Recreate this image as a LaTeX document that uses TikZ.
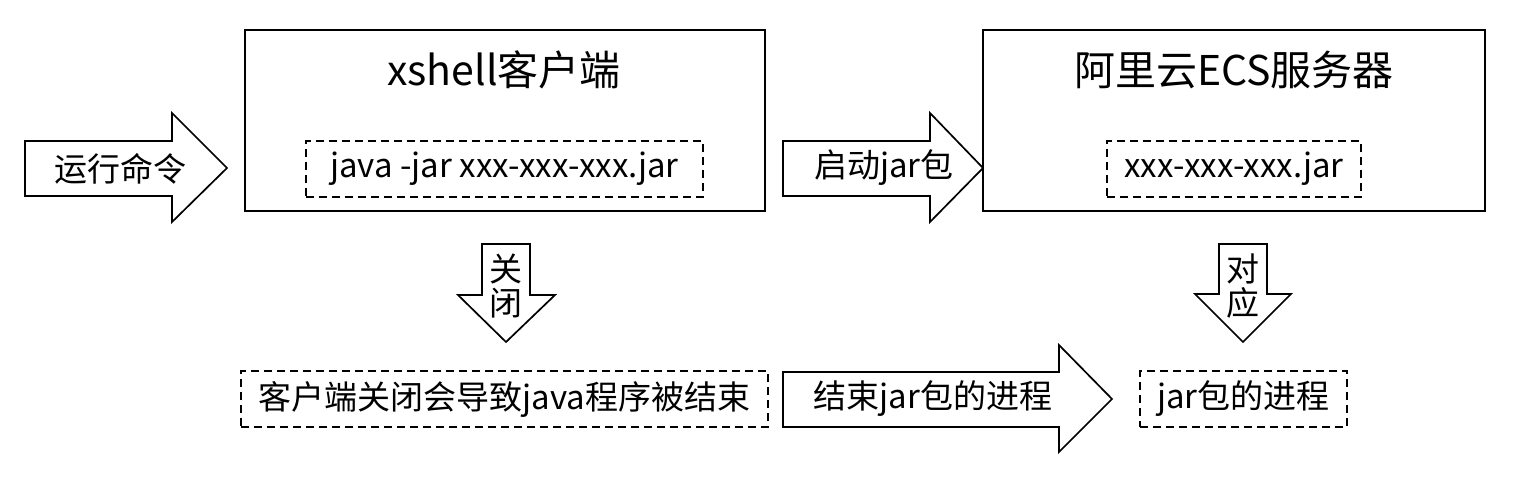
\documentclass[tikz,border=0pt]{standalone}
\usepackage{fontspec}
\setmainfont{Noto Sans CJK SC}
\tikzset{
  bigbox/.style={draw,line width=1.7pt,minimum height=181pt,inner sep=0pt},
  dashbox/.style={draw,line width=1.5pt,dash pattern=on 8pt off 5pt,minimum height=56pt,inner sep=0pt},
  blockarrow/.style={draw,line width=1.7pt,fill=white,line join=miter},
  title/.style={font=\fontsize{41}{45}\selectfont},
  lbl/.style={font=\fontsize{33}{35}\selectfont},
  vlbl/.style={font=\fontsize{33}{34}\selectfont,align=center}
}
\begin{document}
\begin{tikzpicture}[x=1pt,y=-1pt]
\useasboundingbox (0,0) rectangle (1528,480);
% the two machines
\node[bigbox,minimum width=520pt] (client) at (505,120.5) {};
\node[title] (clienttitle) at (504,70) {xshell客户端};
\node[dashbox,minimum width=397pt,lbl] (cmd) at (504.5,169) {java -jar xxx-xxx-xxx.jar};
\node[bigbox,minimum width=502pt] (server) at (1234,120.5) {};
\node[title] (servertitle) at (1234,70) {阿里云ECS服务器};
\node[dashbox,minimum width=254pt,lbl] (jarfile) at (1234,169) {xxx-xxx-xxx.jar};
% big arrows
\draw[blockarrow] (25,141) -- (172,141) -- (172,113) -- (227,168)
  -- (172,222) -- (172,196) -- (25,196) -- cycle;
\node[lbl] (run) at (120,169) {运行命令};
\draw[blockarrow] (783,141) -- (930,141) -- (930,113) -- (983,168)
  -- (930,222) -- (930,196) -- (783,196) -- cycle;
\node[lbl] (start) at (884,168) {启动jar包};
\draw[blockarrow] (482,244) -- (530,244) -- (530,295) -- (555,295)
  -- (506,342) -- (458,295) -- (482,295) -- cycle;
\node[vlbl] (close) at (506,286) {关\\闭};
\draw[blockarrow] (1219,244) -- (1267,244) -- (1267,294) -- (1291,294)
  -- (1243,342) -- (1195,294) -- (1219,294) -- cycle;
\node[vlbl] (match) at (1243,286) {对\\应};
% bottom row
\node[dashbox,minimum width=527pt,lbl] (killed) at (504.5,399) {客户端关闭会导致java程序被结束};
\draw[blockarrow] (783,372) -- (1059,372) -- (1059,345) -- (1112,399)
  -- (1059,452) -- (1059,427) -- (783,427) -- cycle;
\node[lbl] (endproc) at (933,399) {结束jar包的进程};
\node[dashbox,minimum width=207pt,lbl] (proc) at (1243.5,399) {jar包的进程};
\end{tikzpicture}
\end{document}
